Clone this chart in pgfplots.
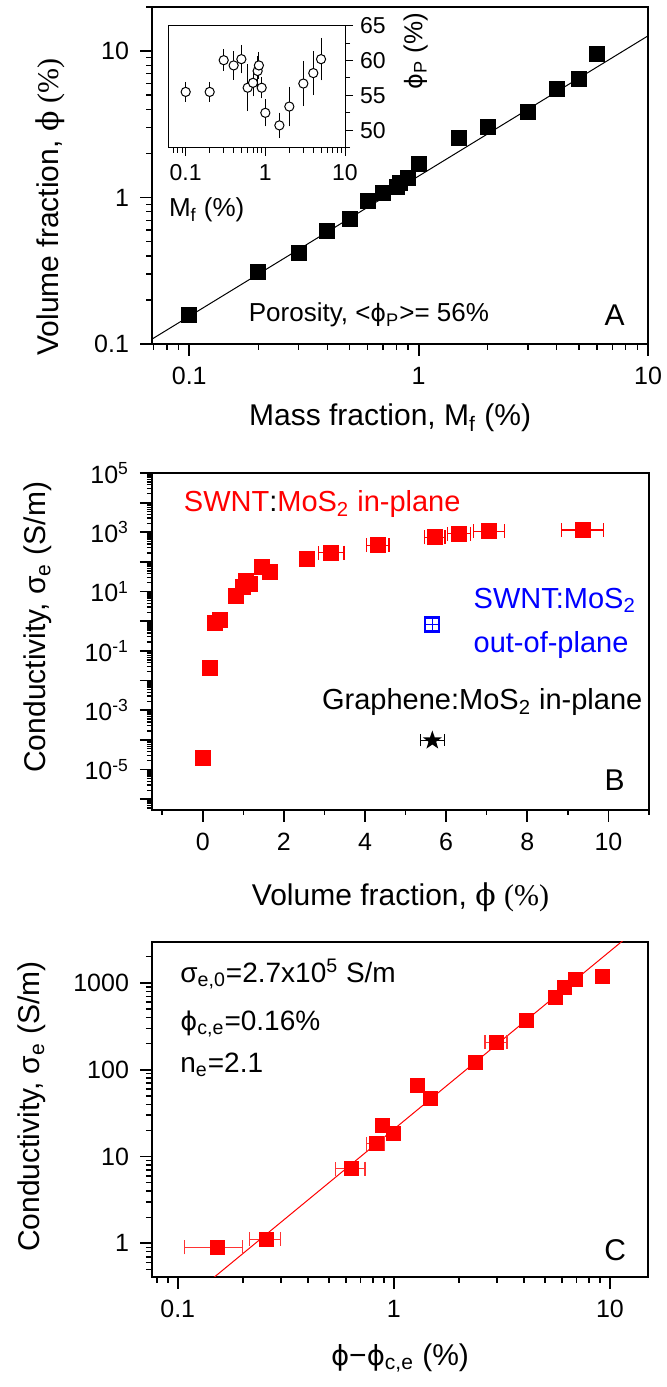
\documentclass[border=0pt]{standalone}
\usepackage{fontspec}
\setmainfont{Liberation Sans}
\newfontfamily\serif{Liberation Serif}
\newfontfamily\phrf{DejaVu Serif}
\newfontfamily\phsf{DejaVu Sans}[Scale=0.92]
\newcommand\phr{{\phrf ϕ}}
\newcommand\phs{{\phsf ϕ}}
\usepackage{pgfplots}
\pgfplotsset{compat=1.18}

% filled five-pointed star
\pgfdeclareplotmark{fstar}{%
  \pgfpathmoveto{\pgfpointpolar{90}{\pgfplotmarksize}}%
  \pgfpathlineto{\pgfpointpolar{126}{0.4\pgfplotmarksize}}%
  \pgfpathlineto{\pgfpointpolar{162}{\pgfplotmarksize}}%
  \pgfpathlineto{\pgfpointpolar{198}{0.4\pgfplotmarksize}}%
  \pgfpathlineto{\pgfpointpolar{234}{\pgfplotmarksize}}%
  \pgfpathlineto{\pgfpointpolar{270}{0.4\pgfplotmarksize}}%
  \pgfpathlineto{\pgfpointpolar{306}{\pgfplotmarksize}}%
  \pgfpathlineto{\pgfpointpolar{342}{0.4\pgfplotmarksize}}%
  \pgfpathlineto{\pgfpointpolar{18}{\pgfplotmarksize}}%
  \pgfpathlineto{\pgfpointpolar{54}{0.4\pgfplotmarksize}}%
  \pgfpathclose\pgfusepathqfill}

\pgfplotsset{
  panel/.style={
    scale only axis, anchor=south west,
    axis line style={line width=1pt},
    tick align=outside, tick pos=left,
    major tick length=6pt, minor tick length=3pt,
    every major tick/.append style={black, line width=0.9pt},
    every minor tick/.append style={black, line width=0.7pt},
    ticklabel style={font=\fontsize{12.5}{14}\selectfont},
    xticklabel style={yshift=-2pt},
    yticklabel style={xshift=-2pt},
    label style={font=\fontsize{15}{17}\selectfont},
  },
}

\begin{document}
\begin{tikzpicture}
\useasboundingbox (0,0) rectangle (333pt,693.5pt);

% ---------- A ----------
\begin{axis}[panel, at={(76pt,521.5pt)}, width=248pt, height=168.5pt,
  xmode=log, ymode=log, xmin=0.0688, xmax=10, ymin=0.1, ymax=20,
  xtick={0.1,1,10}, xticklabels={0.1,1,10},
  minor xtick={0.07,0.08,0.09,0.2,0.3,0.4,0.5,0.6,0.7,0.8,0.9,2,3,4,5,6,7,8,9},
  ytick={0.1,1,10}, yticklabels={0.1,1,10},
  minor ytick={0.2,0.3,0.4,0.5,0.6,0.7,0.8,0.9,2,3,4,5,6,7,8,9,20},
  xlabel={Mass fraction, M\textsubscript{f} (\%)},
  ylabel={Volume fraction, \phr{} {\serif(\%)}},
  xlabel style={at={(axis description cs:0.48,-0.22)}, anchor=center},
  ylabel style={at={(axis description cs:-0.206,0.407)}, anchor=center},
]
\addplot[black, line width=0.5pt] coordinates {(0.0688,0.108) (10,12.7)};
\addplot[only marks, mark=square*, mark size=3.75pt, black] coordinates {
  (0.1,0.157) (0.2,0.312) (0.3,0.418) (0.4,0.596) (0.5,0.71) (0.6,0.95)
  (0.7,1.07) (0.8,1.19) (0.83,1.25) (0.9,1.37) (1.0,1.70) (1.5,2.57)
  (2,3.04) (3,3.82) (4,5.5) (5,6.5) (6,9.5)
};
\node[anchor=base west, font=\fontsize{13}{15}\selectfont] at (rel axis cs:0.181,0.066)
  {Porosity, <\phs\textsubscript{P}>= 56\%};
\node[anchor=base east, font=\fontsize{15}{17}\selectfont] at (rel axis cs:0.967,0.056) {A};
\end{axis}

% ---------- inset ----------
\begin{axis}[scale only axis, anchor=south west, at={(84.15pt,619.65pt)},
  width=88.35pt, height=61pt,
  axis line style={line width=0.5pt},
  xmode=log, xmin=0.0605, xmax=10, ymin=47.5, ymax=65,
  tick align=outside, xtick pos=left, ytick pos=right, yticklabel pos=right,
  major tick length=4pt, minor tick length=2.5pt,
  every major tick/.append style={black, line width=0.5pt},
  every minor tick/.append style={black, line width=0.5pt},
  xtick={0.1,1,10}, xticklabels={0.1,1,10},
  minor xtick={0.07,0.08,0.09,0.2,0.3,0.4,0.5,0.6,0.7,0.8,0.9,2,3,4,5,6,7,8,9},
  ytick={50,55,60,65}, yticklabels={50,55,60,65},
  minor ytick={47.5,52.5,57.5,62.5},
  ticklabel style={font=\fontsize{11.5}{13}\selectfont},
  xticklabel style={yshift=-1pt},
  xlabel={M\textsubscript{f} (\%)}, ylabel={\phs\textsubscript{P} (\%)},
  label style={font=\fontsize{13}{15}\selectfont},
  xlabel style={at={(axis description cs:-0.036,-0.568)}, anchor=base west},
  ylabel style={at={(axis description cs:1.40,0.79)}, anchor=center},
]
\addplot[only marks, mark=*, mark size=2.3pt, mark options={fill=white, draw=black, line width=0.5pt},
  error bars/.cd, y dir=both, y explicit,
  error bar style={black, line width=0.5pt},
  error mark options={black, mark size=1.2pt, line width=0.5pt}]
  coordinates {
  (0.1,55.5) +- (0,1.1)
  (0.2,55.5) +- (0,1.1)
  (0.3,60.05) +- (0,1.2)
  (0.4,59.3) +- (0,1.7)
  (0.5,60.2) +- (0,1.7)
  (0.6,56.1) +- (0,3.0)
  (0.7,56.8) +- (0,1.6)
  (0.8,58.5) +- (0,1.8)
  (0.83,59.3) +- (0,1.6)
  (0.9,56.1) +- (0,1.2)
  (1.0,52.5) +- (0,1.6)
  (1.5,50.7) +- (0,1.5)
  (2,53.4) +- (0,2.5)
  (3,56.7) +- (0,2.9)
  (4,58.2) +- (0,2.8)
  (5,60.2) +- (0,2.7)
};
\end{axis}

% ---------- B ----------
\begin{axis}[panel, at={(76pt,288.5pt)}, width=248.5pt, height=168.5pt,
  ymode=log, xmin=-1.25, xmax=11, ymin=4.3e-7, ymax=1e5,
  xtick={0,2,4,6,8,10}, xticklabels={0,2,4,6,8,10},
  minor xtick={-1,1,3,5,7,9,11},
  ytick={1e-6,1e-5,1e-4,1e-3,1e-2,1e-1,1,1e1,1e2,1e3,1e4,1e5},
  yticklabels={,10\textsuperscript{-5},,10\textsuperscript{-3},,10\textsuperscript{-1},,10\textsuperscript{1},,10\textsuperscript{3},,10\textsuperscript{5}},
  minor ytick={5e-7,6e-7,7e-7,8e-7,9e-7,
    2e-6,3e-6,4e-6,5e-6,6e-6,7e-6,8e-6,9e-6,
    2e-5,3e-5,4e-5,5e-5,6e-5,7e-5,8e-5,9e-5,
    2e-4,3e-4,4e-4,5e-4,6e-4,7e-4,8e-4,9e-4,
    2e-3,3e-3,4e-3,5e-3,6e-3,7e-3,8e-3,9e-3,
    2e-2,3e-2,4e-2,5e-2,6e-2,7e-2,8e-2,9e-2,
    0.2,0.3,0.4,0.5,0.6,0.7,0.8,0.9,
    2,3,4,5,6,7,8,9,
    20,30,40,50,60,70,80,90,
    200,300,400,500,600,700,800,900,
    2000,3000,4000,5000,6000,7000,8000,9000,
    2e4,3e4,4e4,5e4,6e4,7e4,8e4,9e4},
  minor tick length=2.5pt,
  xlabel={Volume fraction, \phr{} {\serif(\%)}},
  ylabel={Conductivity, σ\textsubscript{e} (S/m)},
  xlabel style={at={(axis description cs:0.5,-0.258)}, anchor=center},
  ylabel style={at={(axis description cs:-0.229,0.542)}, anchor=center},
]
\addplot[only marks, mark=square*, mark size=3.75pt, red,
  error bars/.cd, x dir=both, x explicit,
  error bar style={red, line width=0.6pt},
  error mark options={red, rotate=90, mark size=3.5pt, line width=0.6pt}]
  coordinates {
  (0.0,2.5e-5) +- (0,0)
  (0.17,0.026) +- (0,0)
  (0.31,0.90) +- (0,0)
  (0.43,1.10) +- (0,0)
  (0.81,7.3) +- (0,0)
  (1.0,14) +- (0,0)
  (1.06,23) +- (0,0)
  (1.17,18.5) +- (0,0)
  (1.45,67) +- (0,0)
  (1.65,47) +- (0,0)
  (2.56,122) +- (0,0)
  (3.17,208) +- (0.31,0)
  (4.31,366) +- (0.28,0)
  (5.72,680) +- (0.25,0)
  (6.32,900) +- (0.28,0)
  (7.05,1090) +- (0.38,0)
  (9.36,1190) +- (0.51,0)
};
\addplot[only marks, mark=square, mark size=3.5pt, blue, mark options={line width=1.1pt}]
  coordinates {(5.66,0.78)};
\addplot[only marks, mark=+, mark size=3pt, blue, mark options={line width=0.7pt}]
  coordinates {(5.66,0.78)};
\addplot[only marks, mark=fstar, mark size=5pt, black,
  error bars/.cd, x dir=both, x explicit,
  error bar style={black, line width=0.6pt},
  error mark options={black, rotate=90, mark size=3pt, line width=0.6pt}]
  coordinates {(5.66,9.5e-5) +- (0.29,0)};
\node[anchor=base west, font=\fontsize{14.5}{16}\selectfont] at (rel axis cs:0.05,0.885)
  {\textcolor{red}{SWNT}:\textcolor{red}{MoS\textsubscript{2} in-plane}};
\node[anchor=base west, blue, font=\fontsize{14.5}{16}\selectfont] at (rel axis cs:0.633,0.598)
  {SWNT:MoS\textsubscript{2}};
\node[anchor=base west, blue, font=\fontsize{14.5}{16}\selectfont] at (rel axis cs:0.633,0.466)
  {out-of-plane};
\node[anchor=base west, font=\fontsize{14.5}{16}\selectfont] at (rel axis cs:0.328,0.297)
  {Graphene:MoS\textsubscript{2} in-plane};
\node[anchor=base east, font=\fontsize{15}{17}\selectfont] at (rel axis cs:0.965,0.059) {B};
\end{axis}

% ---------- C ----------
\begin{axis}[panel, at={(76pt,55pt)}, width=248pt, height=167.5pt,
  xmode=log, ymode=log, xmin=0.076, xmax=15, ymin=0.41, ymax=2960,
  xtick={0.1,1,10}, xticklabels={0.1,1,10},
  minor xtick={0.08,0.09,0.2,0.3,0.4,0.5,0.6,0.7,0.8,0.9,2,3,4,5,6,7,8,9},
  ytick={1,10,100,1000}, yticklabels={1,10,100,1000},
  minor ytick={0.5,0.6,0.7,0.8,0.9,2,3,4,5,6,7,8,9,20,30,40,50,60,70,80,90,
    200,300,400,500,600,700,800,900,2000},
  xlabel={\phs−\phs\textsubscript{c,e} (\%)},
  ylabel={Conductivity, σ\textsubscript{e} (S/m)},
  xlabel style={at={(axis description cs:0.5,-0.242)}, anchor=center},
  ylabel style={at={(axis description cs:-0.242,0.509)}, anchor=center},
]
\addplot[red, line width=0.5pt] coordinates {(0.1,0.184) (15,5310)};
\addplot[only marks, mark=square*, mark size=3.5pt, red,
  error bars/.cd, x dir=both, x explicit,
  error bar style={red!80!white, line width=0.6pt},
  error mark options={red!80!white, rotate=90, mark size=3.5pt, line width=0.6pt}]
  coordinates {
  (0.153,0.90) +- (0.046,0)
  (0.257,1.12) +- (0.043,0)
  (0.635,7.28) +- (0.10,0)
  (0.826,14.0) +- (0.08,0)
  (0.889,23.1) +- (0,0)
  (1.0,18.5) +- (0,0)
  (1.28,66.7) +- (0,0)
  (1.48,46.8) +- (0,0)
  (2.38,122) +- (0,0)
  (2.99,208) +- (0.35,0)
  (4.12,366) +- (0,0)
  (5.57,678) +- (0,0)
  (6.15,899) +- (0,0)
  (6.89,1092) +- (0,0)
  (9.22,1193) +- (0,0)
};
\node[anchor=base west, font=\fontsize{14}{16}\selectfont] at (rel axis cs:0.043,0.879)
  {σ\textsubscript{e,0}=2.7x10\textsuperscript{5} S/m};
\node[anchor=base west, font=\fontsize{14}{16}\selectfont] at (rel axis cs:0.043,0.737)
  {\phs\textsubscript{c,e}=0.16\%};
\node[anchor=base west, font=\fontsize{14}{16}\selectfont] at (rel axis cs:0.043,0.61)
  {n\textsubscript{e}=2.1};
\node[anchor=base east, font=\fontsize{15}{17}\selectfont] at (rel axis cs:0.97,0.05) {C};
\end{axis}
\end{tikzpicture}
\end{document}
